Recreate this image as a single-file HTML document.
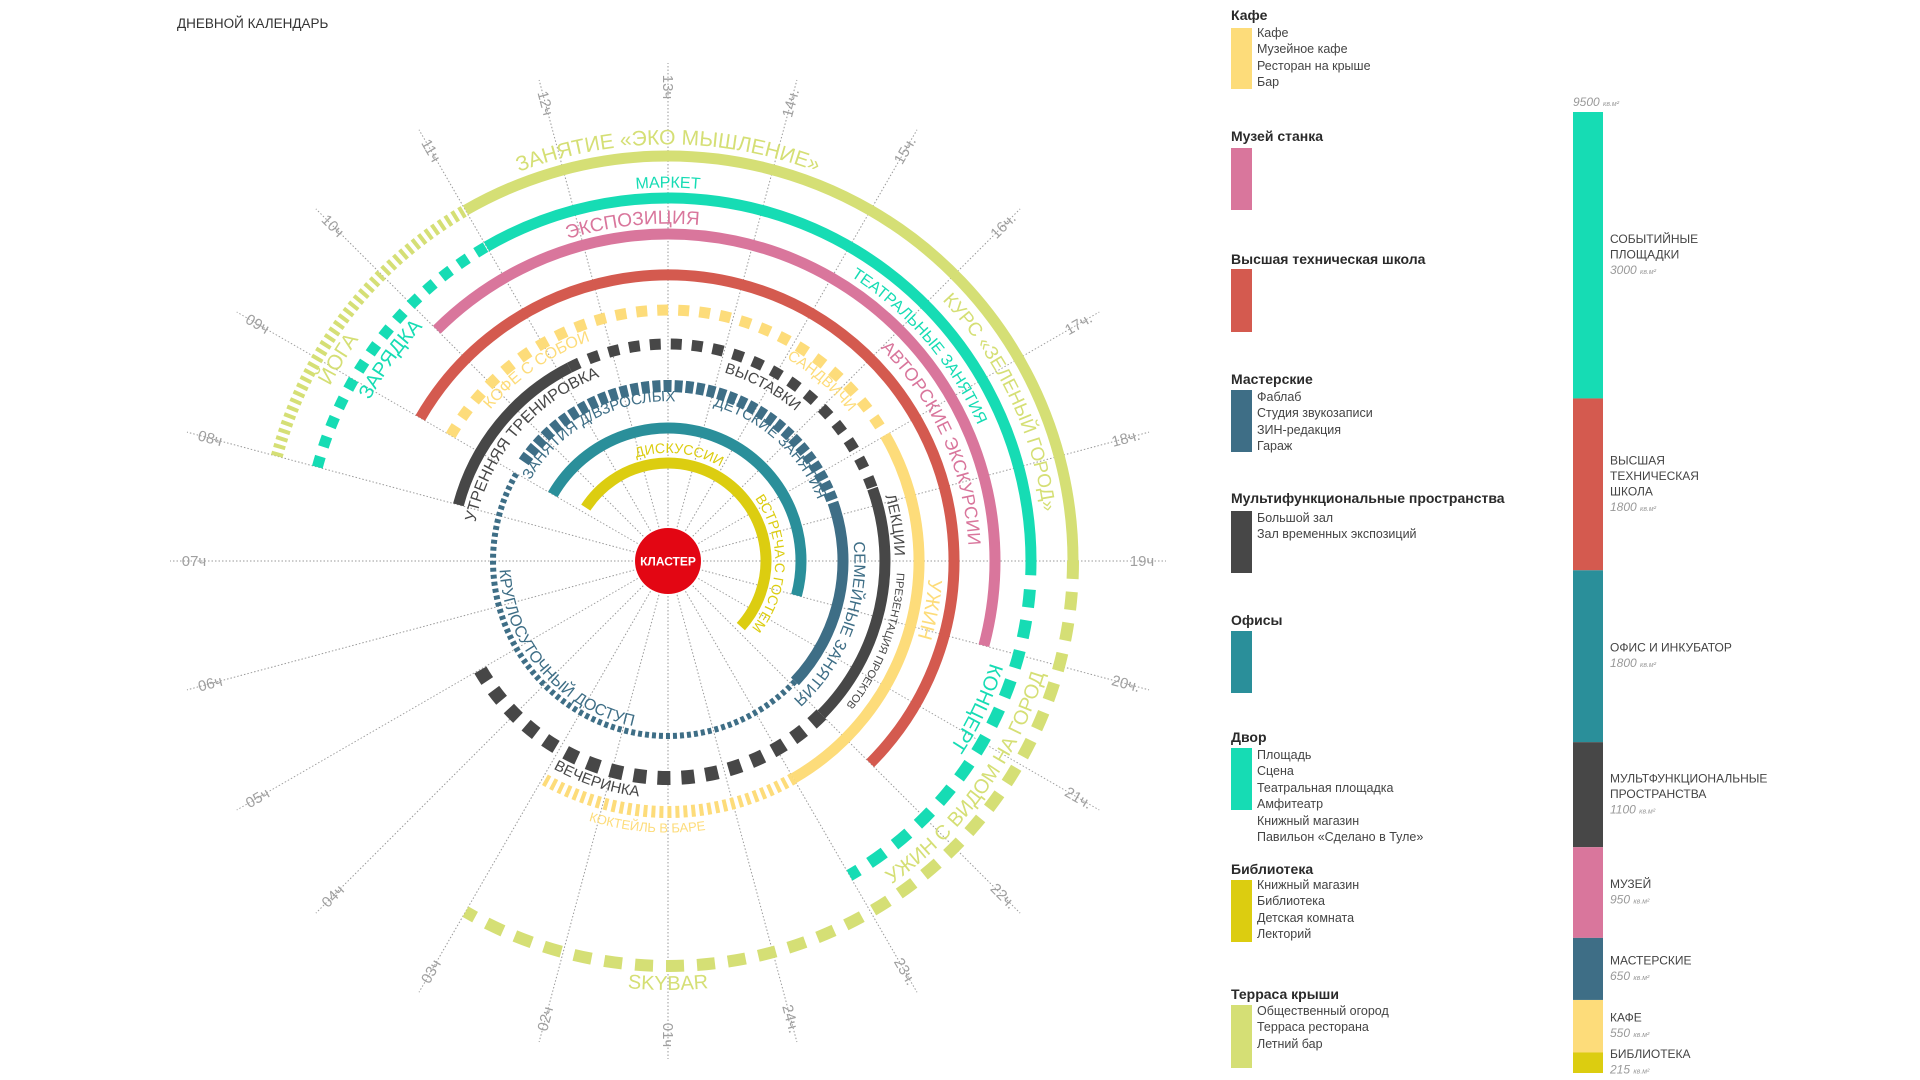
<!DOCTYPE html>
<html><head><meta charset="utf-8"><title>Дневной календарь</title>
<style>
html,body{margin:0;padding:0;background:#fff;}
body{width:1920px;height:1080px;overflow:hidden;position:relative;font-family:"Liberation Sans","Noto Sans CJK SC",sans-serif;}
svg{position:absolute;left:0;top:0;}
.lg{position:absolute;left:1231px;font-size:14px;font-weight:bold;color:#2a2a2a;}
.sw{position:absolute;left:1231px;width:21px;}
.it{position:absolute;left:1257px;font-size:12.5px;color:#444;line-height:16.4px;}
</style></head>
<body>
<svg id="chart" width="1920" height="1080" viewBox="0 0 1920 1080">
<text x="177" y="28" font-size="13.5" fill="#333" font-family="Liberation Sans Narrow, Liberation Sans, sans-serif">ДНЕВНОЙ КАЛЕНДАРЬ</text>
<g id="spokes"></g><g id="arcs"></g><g id="labels"></g>
<circle cx="668" cy="561" r="33" fill="#e30613"></circle>
<text x="668" y="565.5" font-size="12" font-weight="bold" fill="#fff" text-anchor="middle">КЛАСТЕР</text>
<g id="bar"></g>
</svg>

<div class="lg" style="top:7px">Кафе</div>
<div class="sw" style="top:28px;height:61px;background:#fddc7a"></div>
<div class="it" style="top:25px">Кафе<br>Музейное кафе<br>Ресторан на крыше<br>Бар</div>

<div class="lg" style="top:128px">Музей станка</div>
<div class="sw" style="top:148px;height:62px;background:#d9769c"></div>

<div class="lg" style="top:251px">Высшая техническая школа</div>
<div class="sw" style="top:269px;height:63px;background:#d45a4f"></div>

<div class="lg" style="top:371px">Мастерские</div>
<div class="sw" style="top:390px;height:62px;background:#3e6e86"></div>
<div class="it" style="top:389px">Фаблаб<br>Студия звукозаписи<br>ЗИН-редакция<br>Гараж</div>

<div class="lg" style="top:490px">Мультифункциональные пространства</div>
<div class="sw" style="top:511px;height:62px;background:#474747"></div>
<div class="it" style="top:510px">Большой зал<br>Зал временных экспозиций</div>

<div class="lg" style="top:612px">Офисы</div>
<div class="sw" style="top:631px;height:62px;background:#2a8f9a"></div>

<div class="lg" style="top:729px">Двор</div>
<div class="sw" style="top:748px;height:62px;background:#16dcb4"></div>
<div class="it" style="top:747px">Площадь<br>Сцена<br>Театральная площадка<br>Амфитеатр<br>Книжный магазин<br>Павильон «Сделано в Туле»</div>

<div class="lg" style="top:861px">Библиотека</div>
<div class="sw" style="top:880px;height:62px;background:#dccd10"></div>
<div class="it" style="top:877px">Книжный магазин<br>Библиотека<br>Детская комната<br>Лекторий</div>

<div class="lg" style="top:986px">Терраса крыши</div>
<div class="sw" style="top:1005px;height:63px;background:#d5df75"></div>
<div class="it" style="top:1003px">Общественный огород<br>Терраса ресторана<br>Летний бар</div>

<script>
// ---- radial chart data ----
const hourLabels = ["01ч","02ч","03ч","04ч","05ч","06ч","07ч","08ч","09ч","10ч","11ч","12ч","13ч","14ч.","15ч.","16ч.","17ч.","18ч.","19ч","20ч.","21ч.","22ч.","23ч.","24ч."];
const hourValues = [25,26,27,28,29,30,7,8,9,10,11,12,13,14,15,16,17,18,19,20,21,22,23,24];
const ringNames = ["roof","yard","museum","school","cafe","multi","workshops","offices","library"];
const ringColors = ["#d5df75","#16dcb4","#d9769c","#d45a4f","#fddc7a","#474747","#3e6e86","#2a8f9a","#dccd10"];
const segRing  = [0,0,0, 1,1,1, 2, 3, 4,4,4, 5,5,5,5, 6,6,6, 7, 8];
const segStart = [8,11,19, 8,11,19.3, 10, 9, 9,17,23, 8,11.2,17.7,22, 9.3,17.7,21.9, 9, 9.2];
const segEnd   = [11,19,27, 11,19.15,23, 20, 22, 17,23,27, 11.2,17.7,22,29, 17.7,21.9,33, 20, 21.8];
const segStyle = ["fine","solid","big", "med","solid","big", "solid","solid", "med","solid","fine", "solid","med","solid","sq", "dense","solid","dot", "solid","solid"];
const labelText = ["ЗАНЯТИЕ «ЭКО МЫШЛЕНИЕ»","МАРКЕТ","ЭКСПОЗИЦИЯ","КОФЕ С СОБОЙ","САНДВИЧИ","УТРЕННЯЯ ТРЕНИРОВКА","ВЫСТАВКИ","ЗАНЯТИЯ Д/ВЗРОСЛЫХ","ДЕТСКИЕ ЗАНЯТИЯ","ДИСКУССИИ","ВСТРЕЧА С ГОСТЕМ","ЛЕКЦИИ","СЕМЕЙНЫЕ ЗАНЯТИЯ","ПРЕЗЕНТАЦИЯ ПРОЕКТОВ","УЖИН","АВТОРСКИЕ ЭКСКУРСИИ","ТЕАТРАЛЬНЫЕ ЗАНЯТИЯ","КУРС «ЗЕЛЕНЫЙ ГОРОД»","ЙОГА","ЗАРЯДКА","КОНЦЕРТ","УЖИН С ВИДОМ НА ГОРОД","SKYBAR","КОКТЕЙЛЬ В БАРЕ","ВЕЧЕРИНКА","КРУГЛОСУТОЧНЫЙ ДОСТУП"];
const labelRing = [0,1,2,4,4,5,5,6,6,8,8,5,6,5,4,2,1,0,0,1,1,0,0,4,5,6];
const labelHour = [13,13,12.6,10.7,15.7,9.7,14.9,11.1,15.8,13.4,19.1,18.4,20.4,20.4,19.7,17.4,16.3,17.3,9.1,9.4,20.7,21.4,25,25.3,26.2,28.3];

// ---- bar data ----
const barNames = ["СОБЫТИЙНЫЕ|ПЛОЩАДКИ","ВЫСШАЯ|ТЕХНИЧЕСКАЯ|ШКОЛА","ОФИС И ИНКУБАТОР","МУЛЬТФУНКЦИОНАЛЬНЫЕ|ПРОСТРАНСТВА","МУЗЕЙ","МАСТЕРСКИЕ","КАФЕ","БИБЛИОТЕКА"];
const barValues = [3000,1800,1800,1100,950,650,550,215];
const barColors = ["#16dcb4","#d45a4f","#2a8f9a","#474747","#d9769c","#3e6e86","#fddc7a","#dccd10"];
const barTotalLabel = "9500";

// ---- layout ----
const NS="http://www.w3.org/2000/svg";
const CX=668, CY=561;
const ringR=[405,363,327,286,251,217,175,133,98];
const styleDash={solid:null,fine:"4 4",med:"11 10",big:"18 13",sq:"13 11",dense:"8 3",dot:"4 3"};
const styleW={solid:11,fine:12,med:11,big:12,sq:14,dense:12,dot:6};
const labelFs=[21,16,19,16,15,16,15,15,15,14,14,15,16,11,20,18,16,19,21,20,20,20,20,13,15,16];
const labelCcw=[0,0,0,0,0,0,0,0,0,0,0,0,0,0,0,0,0,0,0,0,0,1,1,1,1,1];
const labelOff=[19,16,17,-12,-11,-15,-15,-10,-8,15,14,15,17,16,17,-20,-19,-20,-17,-17,-18,-19,17,16,15,-12];

function ang(h){return (h-13)*15*Math.PI/180;}
function px(r,h){return CX+r*Math.sin(ang(h));}
function py(r,h){return CY-r*Math.cos(ang(h));}
function arcD(r,h1,h2,ccw){
  const large=Math.abs(h2-h1)*15>180?1:0;
  return `M${px(r,h1).toFixed(2)} ${py(r,h1).toFixed(2)} A${r} ${r} 0 ${large} ${ccw?0:1} ${px(r,h2).toFixed(2)} ${py(r,h2).toFixed(2)}`;
}

// spokes
const gs=document.getElementById('spokes');
hourValues.forEach((h,i)=>{
  const l=document.createElementNS(NS,'line');
  l.setAttribute('x1',px(35,h));l.setAttribute('y1',py(35,h));
  l.setAttribute('x2',px(498,h));l.setAttribute('y2',py(498,h));
  l.setAttribute('stroke','#9a9a9a');l.setAttribute('stroke-width','1');l.setAttribute('stroke-dasharray','1.5 2');
  
  
  gs.appendChild(l);
  const t=document.createElementNS(NS,'text');
  const x=px(474,h), y=py(474,h);
  let deg=(h-13)*15-90; deg=((deg%360)+360)%360; if(deg>90&&deg<=270) deg-=180;
  t.setAttribute('x',x);t.setAttribute('y',y+5);
  t.setAttribute('transform',`rotate(${deg} ${x} ${y})`);
  t.setAttribute('text-anchor','middle');t.setAttribute('font-size','15');t.setAttribute('fill','#a0a0a0');
  t.setAttribute('font-family','Liberation Sans Narrow, Liberation Sans, sans-serif');
  
  
  t.textContent=hourLabels[i];
  gs.appendChild(t);
});

// arcs
const ga=document.getElementById('arcs');
segStart.forEach((s,i)=>{
  const ri=segRing[i], st=segStyle[i];
  const p=document.createElementNS(NS,'path');
  p.setAttribute('d',arcD(ringR[ri],s,segEnd[i],false));
  p.setAttribute('fill','none');p.setAttribute('stroke',ringColors[ri]);
  p.setAttribute('stroke-width',styleW[st]);
  if(styleDash[st]) p.setAttribute('stroke-dasharray',styleDash[st]);
  
  
  ga.appendChild(p);
});

// labels
const gl=document.getElementById('labels');
const defs=document.createElementNS(NS,'defs');gl.appendChild(defs);
labelText.forEach((txt,i)=>{
  const ri=labelRing[i], fs=labelFs[i], ccw=labelCcw[i];
  const r=ringR[ri]+labelOff[i];
  const base= ccw ? r+fs*0.35 : r-fs*0.35;
  const hc=labelHour[i];
  const pid='lp'+i;
  const path=document.createElementNS(NS,'path');
  path.setAttribute('id',pid);
  path.setAttribute('d', ccw?arcD(base,hc+5,hc-5,true):arcD(base,hc-5,hc+5,false));
  defs.appendChild(path);
  const t=document.createElementNS(NS,'text');
  t.setAttribute('font-size',fs);t.setAttribute('fill',ringColors[ri]);
  t.setAttribute('font-family','Liberation Sans Narrow, Liberation Sans, sans-serif');
  
  
  const tp=document.createElementNS(NS,'textPath');
  tp.setAttribute('href','#'+pid);tp.setAttribute('startOffset','50%');tp.setAttribute('text-anchor','middle');
  tp.textContent=txt;
  t.appendChild(tp);gl.appendChild(t);
});

// stacked bar
const gb=document.getElementById('bar');
const BX=1573,BW=30,BTOP=112,BBOT=1073;
const total=barValues.reduce((a,b)=>a+b,0);
function yScale(v){return v/total*(BBOT-BTOP);}
const tt=document.createElementNS(NS,'text');
tt.setAttribute('x',BX);tt.setAttribute('y',BTOP-6);tt.setAttribute('font-size','12');tt.setAttribute('font-style','italic');tt.setAttribute('fill','#999');


tt.innerHTML=barTotalLabel+' <tspan font-size="7">кв.м²</tspan>';
gb.appendChild(tt);
let acc=BTOP;
barValues.forEach((v,i)=>{
  const h=yScale(v);
  const r=document.createElementNS(NS,'rect');
  r.setAttribute('x',BX);r.setAttribute('y',acc);r.setAttribute('width',BW);r.setAttribute('height',h);
  r.setAttribute('fill',barColors[i]);
  
  
  gb.appendChild(r);
  const lines=barNames[i].split('|');
  const n=lines.length+1, lh=15.5;
  let y0=acc+h/2-(n*lh)/2+11;
  const g=document.createElementNS(NS,'text');
  g.setAttribute('font-size','12');g.setAttribute('fill','#444');
  
  
  lines.forEach((ln,k)=>{
    const s=document.createElementNS(NS,'tspan');
    s.setAttribute('x',BX+37);s.setAttribute('y',y0+k*lh);s.textContent=ln;g.appendChild(s);
  });
  const vs=document.createElementNS(NS,'tspan');
  vs.setAttribute('x',BX+37);vs.setAttribute('y',y0+lines.length*lh);vs.setAttribute('font-style','italic');vs.setAttribute('fill','#999');
  vs.textContent=v+' ';
  const un=document.createElementNS(NS,'tspan');un.setAttribute('font-size','7');un.setAttribute('font-style','italic');un.setAttribute('fill','#999');un.textContent='кв.м²';
  g.appendChild(vs);g.appendChild(un);
  gb.appendChild(g);
  acc+=h;
});
</script>
</body></html>
